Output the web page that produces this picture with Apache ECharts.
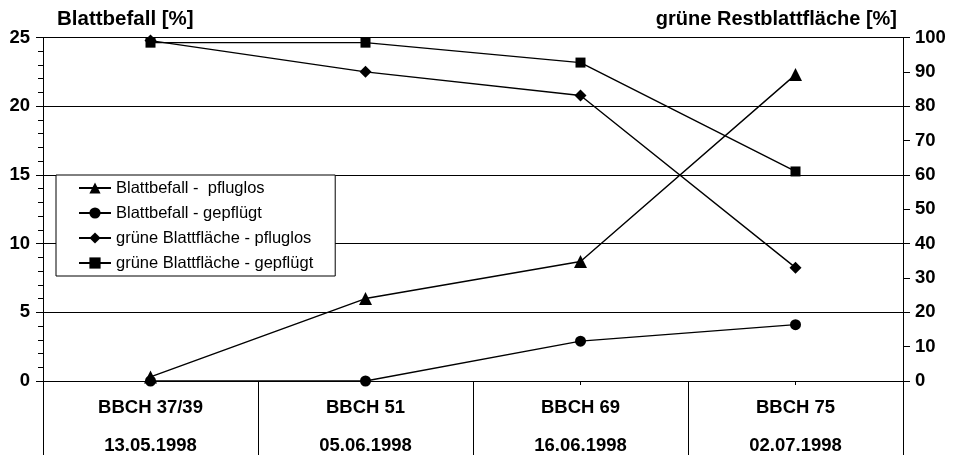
<!DOCTYPE html>
<html>
<head>
<meta charset="utf-8">
<script src="https://cdn.jsdelivr.net/npm/echarts@6/dist/echarts.min.js"></script>
<style>
  html, body { margin: 0; padding: 0; background: #fff; }
  #chart { width: 954px; height: 455px; }
</style>
</head>
<body>
<div id="chart"></div>
<script>
// Growth stages and sampling dates
const stages = ['BBCH 37/39', 'BBCH 51', 'BBCH 69', 'BBCH 75'];
const dates = ['13.05.1998', '05.06.1998', '16.06.1998', '02.07.1998'];

// Leaf infection [%] (left axis)
const befallPfluglos = [0.3, 6.0, 8.7, 22.3];
const befallGepfluegt = [0, 0, 2.9, 4.1];

// Remaining green leaf area [%] (right axis)
const gruenPfluglos = [99.1, 90.0, 83.1, 33.0];
const gruenGepfluegt = [98.5, 98.5, 92.7, 61.0];

// Axis scales
const leftTicks = { min: 0, max: 25, step: 5 };
const rightTicks = { min: 0, max: 100, step: 10 };

const FONT = 'Liberation Sans, Arial, sans-serif';
const categories = stages.map((s, i) => s + '\n' + dates[i]);

const chart = echarts.init(document.getElementById('chart'), null, { renderer: 'canvas' });

const lineSeries = (name, data, symbol, size, yIndex) => ({
  name, type: 'line', data, yAxisIndex: yIndex, xAxisIndex: 0,
  symbol, symbolSize: size, showAllSymbol: true,
  lineStyle: { color: '#000', width: 1.4 },
  itemStyle: { color: '#000', borderColor: '#000', borderWidth: 0 },
  emphasis: { disabled: true },
  animation: false
});

chart.setOption({
  animation: false,
  backgroundColor: '#fff',
  textStyle: { fontFamily: FONT },
  title: [
    { text: 'Blattbefall [%]', left: 57, top: 9, padding: 0,
      textStyle: { fontFamily: FONT, fontSize: 20.5, fontWeight: 'bold', color: '#000' } },
    { text: 'grüne Restblattfläche [%]', right: 57, top: 9, padding: 0,
      textStyle: { fontFamily: FONT, fontSize: 20, fontWeight: 'bold', color: '#000' } }
  ],
  legend: {
    orient: 'vertical', left: 56, top: 175,
    padding: [4, 22, 4, 22],
    backgroundColor: '#fff', borderColor: '#000', borderWidth: 1,
    itemWidth: 32, itemHeight: 14, itemGap: 7,
    textStyle: { fontFamily: FONT, fontSize: 16.5, color: '#000', lineHeight: 18 },
    selectedMode: false
  },
  grid: { left: 43, right: 51, top: 37.5, bottom: 74, containLabel: false, outerBoundsMode: 'none' },
  xAxis: [
    {
      type: 'category', data: categories, boundaryGap: true, position: 'bottom',
      axisLine: { lineStyle: { color: '#000', width: 1 } },
      axisTick: { show: true, interval: 0, length: 74, lineStyle: { color: '#000', width: 1 } },
      axisLabel: {
        interval: 0, margin: 8, color: '#000', fontFamily: FONT,
        fontSize: 18.5, fontWeight: 'bold', lineHeight: 38
      },
      splitLine: { show: false }
    },
    {
      type: 'category', data: categories, boundaryGap: true, position: 'bottom',
      axisLine: { show: false },
      axisTick: { show: true, alignWithLabel: true, interval: 0, length: 4, lineStyle: { color: '#000', width: 1 } },
      axisLabel: { show: false },
      splitLine: { show: false }
    }
  ],
  yAxis: [
    {
      type: 'value', position: 'left', min: leftTicks.min, max: leftTicks.max, interval: leftTicks.step,
      axisLine: { show: true, lineStyle: { color: '#000', width: 1 } },
      axisTick: { show: true, length: 7, lineStyle: { color: '#000' } },
      minorTick: { show: true, splitNumber: 5, length: 5, lineStyle: { color: '#000' } },
      axisLabel: { margin: 13, color: '#000', fontFamily: FONT, fontSize: 18.5, fontWeight: 'bold' },
      splitLine: { show: true, lineStyle: { color: '#000', width: 1 } }
    },
    {
      type: 'value', position: 'right', min: rightTicks.min, max: rightTicks.max, interval: rightTicks.step,
      axisLine: { show: true, lineStyle: { color: '#000', width: 1 } },
      axisTick: { show: true, length: 7, lineStyle: { color: '#000' } },
      axisLabel: { margin: 12, color: '#000', fontFamily: FONT, fontSize: 18.5, fontWeight: 'bold' },
      splitLine: { show: false }
    }
  ],
  series: [
    lineSeries('Blattbefall -  pfluglos', befallPfluglos, 'triangle', 13, 0),
    lineSeries('Blattbefall - gepflügt', befallGepfluegt, 'circle', 11, 0),
    lineSeries('grüne Blattfläche - pfluglos', gruenPfluglos, 'diamond', 12, 1),
    lineSeries('grüne Blattfläche - gepflügt', gruenGepfluegt, 'rect', 10, 1)
  ]
});
</script>
</body>
</html>
